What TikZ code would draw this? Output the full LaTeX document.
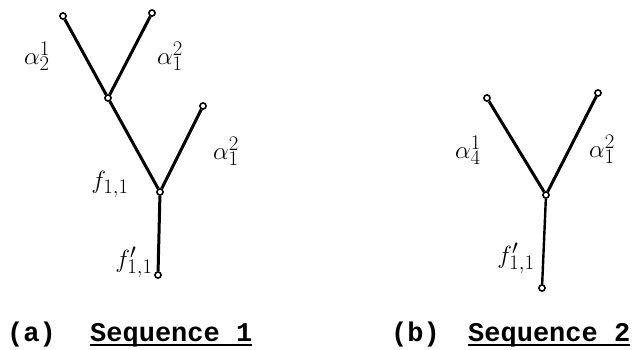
\documentclass[tikz,border=0pt]{standalone}
\usepackage{fontspec}
\setmonofont{Liberation Mono}
\begin{document}
\begin{tikzpicture}[x=1pt,y=-1pt,
  vtx/.style={circle,draw,line width=1.4pt,fill=white,inner sep=0pt,minimum size=6pt},
  edge/.style={line width=3pt},
  lbl/.style={font=\fontsize{31}{33}\selectfont},
  captext/.style={font=\fontsize{27}{30}\selectfont\ttfamily\bfseries,inner sep=0pt,anchor=base west},
  uline/.style={line width=1.6pt}]
\useasboundingbox (0,0) rectangle (637,350);
% tree (a)
\node[vtx] (a1) at (63,16) {};
\node[vtx] (a2) at (152,13) {};
\node[vtx] (a3) at (108,98) {};
\node[vtx] (a4) at (203,106) {};
\node[vtx] (a5) at (160,192) {};
\node[vtx] (a6) at (158,275) {};
\draw[edge] (a1) -- (a3);
\draw[edge] (a2) -- (a3);
\draw[edge] (a3) -- (a5);
\draw[edge] (a4) -- (a5);
\draw[edge] (a5) -- (a6);
\node[vtx] at (a1) {};\node[vtx] at (a2) {};\node[vtx] at (a3) {};
\node[vtx] at (a4) {};\node[vtx] at (a5) {};\node[vtx] at (a6) {};
\node[lbl] (la1) at (37,56) {$\alpha^1_2$};
\node[lbl] (la2) at (170,56) {$\alpha^2_1$};
\node[lbl] (la3) at (226,151) {$\alpha^2_1$};
\node[lbl] (la4) at (110,184) {$f_{1,1}$};
\node[lbl] (la5) at (134,262) {$f'_{1,1}$};
% tree (b)
\node[vtx] (b1) at (487,98) {};
\node[vtx] (b2) at (598,93) {};
\node[vtx] (b3) at (546,195) {};
\node[vtx] (b4) at (542,288) {};
\draw[edge] (b1) -- (b3);
\draw[edge] (b2) -- (b3);
\draw[line width=2.4pt] (b3) -- (b4);
\node[vtx] at (b1) {};\node[vtx] at (b2) {};\node[vtx] at (b3) {};\node[vtx] at (b4) {};
\node[lbl] (lb1) at (468,150) {$\alpha^1_4$};
\node[lbl] (lb2) at (602,149) {$\alpha^2_1$};
\node[lbl] (lb3) at (516,258) {$f'_{1,1}$};
% captions
\node[captext] (ca) at (7,341) {(a)};
\node[captext] (sa) at (90,341) {Sequence 1};
\node[captext] (cb) at (391,341) {(b)};
\node[captext] (sb) at (468,341) {Sequence 2};
\draw[uline] ([yshift=-4pt]sa.base west) -- ([yshift=-4pt]sa.base east);
\draw[uline] ([yshift=-4pt]sb.base west) -- ([yshift=-4pt]sb.base east);
\end{tikzpicture}
\end{document}
